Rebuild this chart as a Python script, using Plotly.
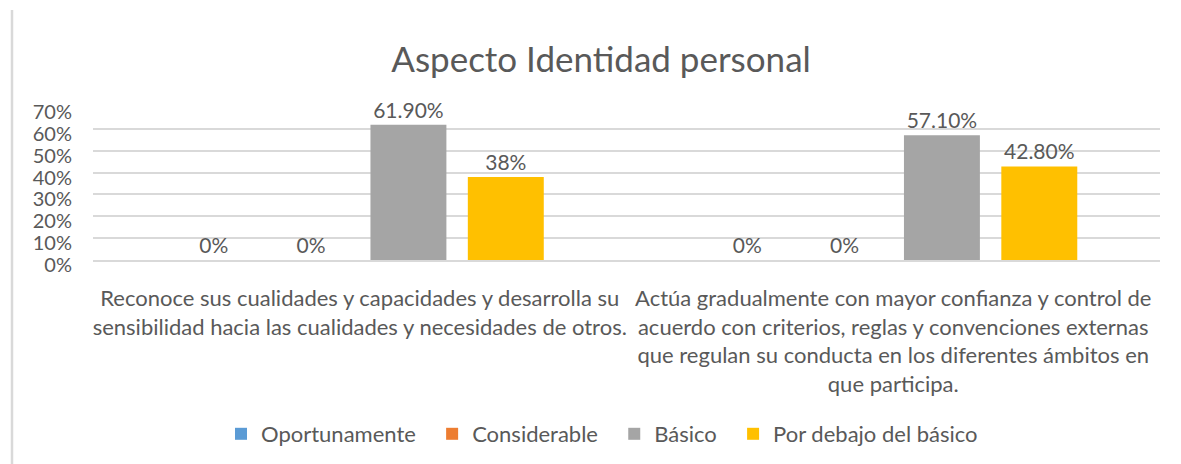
import plotly.graph_objects as go

# Data
categorias = [
    "Reconoce sus cualidades y capacidades y desarrolla su<br>sensibilidad hacia las cualidades y necesidades de otros.",
    "Actúa gradualmente con mayor confianza y control de<br>acuerdo con criterios, reglas y convenciones externas<br>que regulan su conducta en los diferentes ámbitos en<br>que participa.",
]
series = ["Oportunamente", "Considerable", "Básico", "Por debajo del básico"]
oportunamente = [0.0, 0.0]
considerable = [0.0, 0.0]
basico = [0.619, 0.571]
por_debajo = [0.38, 0.428]
etiquetas = [["0%", "0%"], ["0%", "0%"], ["61.90%", "57.10%"], ["38%", "42.80%"]]

colores = ["#5B9BD5", "#ED7D31", "#A5A5A5", "#FFC000"]
valores = [oportunamente, considerable, basico, por_debajo]

FONT = "Lato, 'Open Sans', sans-serif"
GRIS = "#595959"
PAD = "\u00a0" * 2  # a bit more room between legend entries, like Excel

fig = go.Figure()
for i, (nombre, vals, col, txt) in enumerate(zip(series, valores, colores, etiquetas)):
    fig.add_trace(go.Bar(
        name=nombre + (PAD if i < len(series) - 1 else ""),
        x=categorias,
        y=vals,
        marker_color=col,
        marker_line_width=0,
        text=txt,
        textposition="outside",
        textfont=dict(size=21, color=GRIS, family=FONT),
        cliponaxis=False,
    ))

fig.update_layout(
    width=1181, height=464,
    paper_bgcolor="white", plot_bgcolor="white",
    barmode="group",
    bargap=0.27,
    bargroupgap=0.22,
    margin=dict(l=93, r=21, t=107, b=204, autoexpand=False),
    font=dict(family=FONT, color=GRIS, size=22),
    title=dict(
        text="Aspecto Identidad personal",
        x=601 / 1181, xanchor="center", xref="container",
        y=1 - 60 / 464, yanchor="middle",
        font=dict(size=35, color=GRIS, family=FONT),
    ),
    legend=dict(
        orientation="h",
        x=602 / 1181, xanchor="center", xref="container",
        y=9 / 464, yref="container", yanchor="bottom",
        font=dict(size=22, color=GRIS, family=FONT),
        itemwidth=30,
        traceorder="normal",
    ),
    showlegend=True,
)

fig.update_yaxes(
    range=[0, 0.7],
    dtick=0.1,
    tickformat=".0%",
    showgrid=True, gridcolor="#D9D9D9", gridwidth=1.5,
    zeroline=False,
    showline=False,
    ticks="",
    automargin=False,
    ticklabelstandoff=20,
    ticklabelshift=5,
    tickfont=dict(size=20, color=GRIS, family=FONT),
)
fig.update_xaxes(
    showline=True, linecolor="#D9D9D9", linewidth=1.5,
    ticks="",
    automargin=False,
    ticklabelstandoff=18,
    tickfont=dict(size=22, color=GRIS, family=FONT),
    tickangle=0,
)

# left edge of the chart frame
fig.add_shape(type="line", xref="paper", yref="paper",
              x0=-81 / 1067, x1=-81 / 1067, y0=-2, y1=1 + 97 / 153,
              line=dict(color="#D9D9D9", width=2.5))

fig.write_html("out.html", config={"displayModeBar": False},
               post_script="document.body.style.margin='0';")
